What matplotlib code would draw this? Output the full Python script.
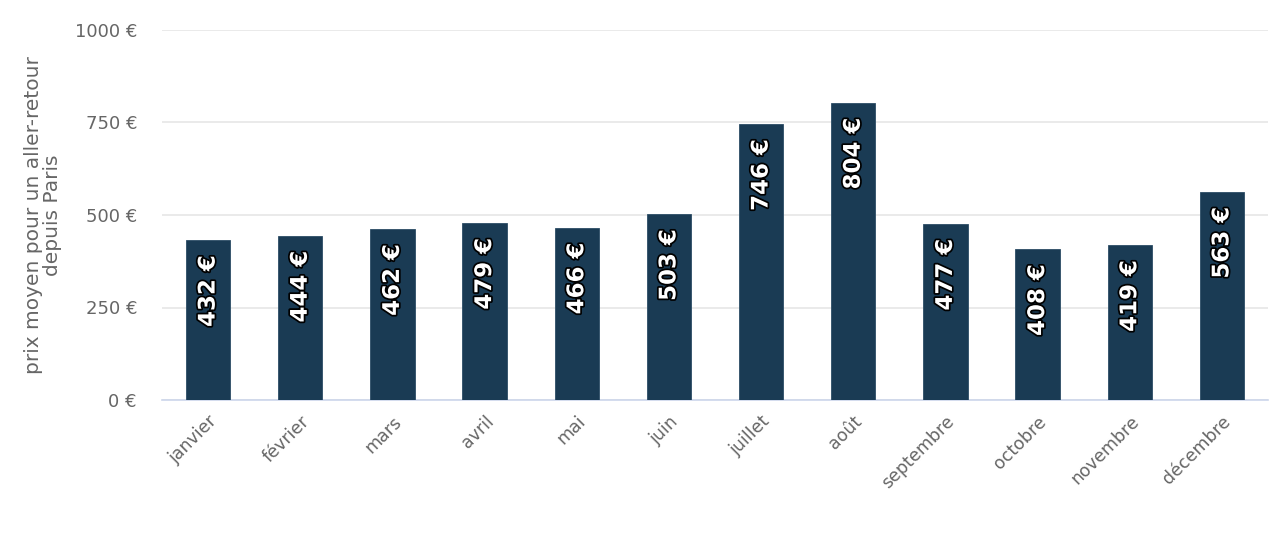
import matplotlib
matplotlib.use("Agg")
import matplotlib.pyplot as plt
import matplotlib.patheffects as pe

months = ["janvier", "février", "mars", "avril", "mai", "juin", "juillet",
          "août", "septembre", "octobre", "novembre", "décembre"]
prices = [432, 444, 462, 479, 466, 503, 746, 804, 477, 408, 419, 563]
yticks = [0, 250, 500, 750, 1000]

plt.rcParams['font.family'] = ['DejaVu Sans']

fig = plt.figure(figsize=(12.8, 5.37), dpi=100)
ax = fig.add_axes([162/1280, 1-400/537, (1268-162)/1280, 370/537])

x = list(range(len(months)))
ax.bar(x, prices, width=0.48, color="#1a3b54", edgecolor="#2c4d66", linewidth=0.6, zorder=3)

for xi, v in zip(x, prices):
    ax.annotate(f"{v} €", xy=(xi, v), xytext=(0, -11), textcoords="offset points",
                rotation=90, ha="center", va="top", color="white",
                fontsize=16.5, fontweight="bold", zorder=4,
                path_effects=[pe.withStroke(linewidth=2.5, foreground="black")])

ax.set_xlim(-0.5, len(months) - 0.5)
ax.set_ylim(0, 1000)
ax.set_yticks(yticks)
ax.set_yticklabels([f"{t} €" for t in yticks])
ax.yaxis.grid(True, color="#e6e6e6", linewidth=1.2, zorder=0)
ax.set_axisbelow(True)

for s in ["top", "right", "left"]:
    ax.spines[s].set_visible(False)
ax.spines["bottom"].set_color("#ccd6eb")
ax.spines["bottom"].set_linewidth(1.2)

ax.tick_params(axis="y", length=0, pad=18, labelsize=13, labelcolor="#666666")
ax.tick_params(axis="x", length=0, pad=9, labelsize=12.5, labelcolor="#666666")
ax.set_xticks(x)
ax.set_xticklabels(months, rotation=45, ha="right", rotation_mode="anchor")

ax.set_ylabel("prix moyen pour un aller-retour\ndepuis Paris", fontsize=14.5,
              color="#666666", linespacing=1.0, labelpad=9)

fig.savefig("out.png", dpi=100)
